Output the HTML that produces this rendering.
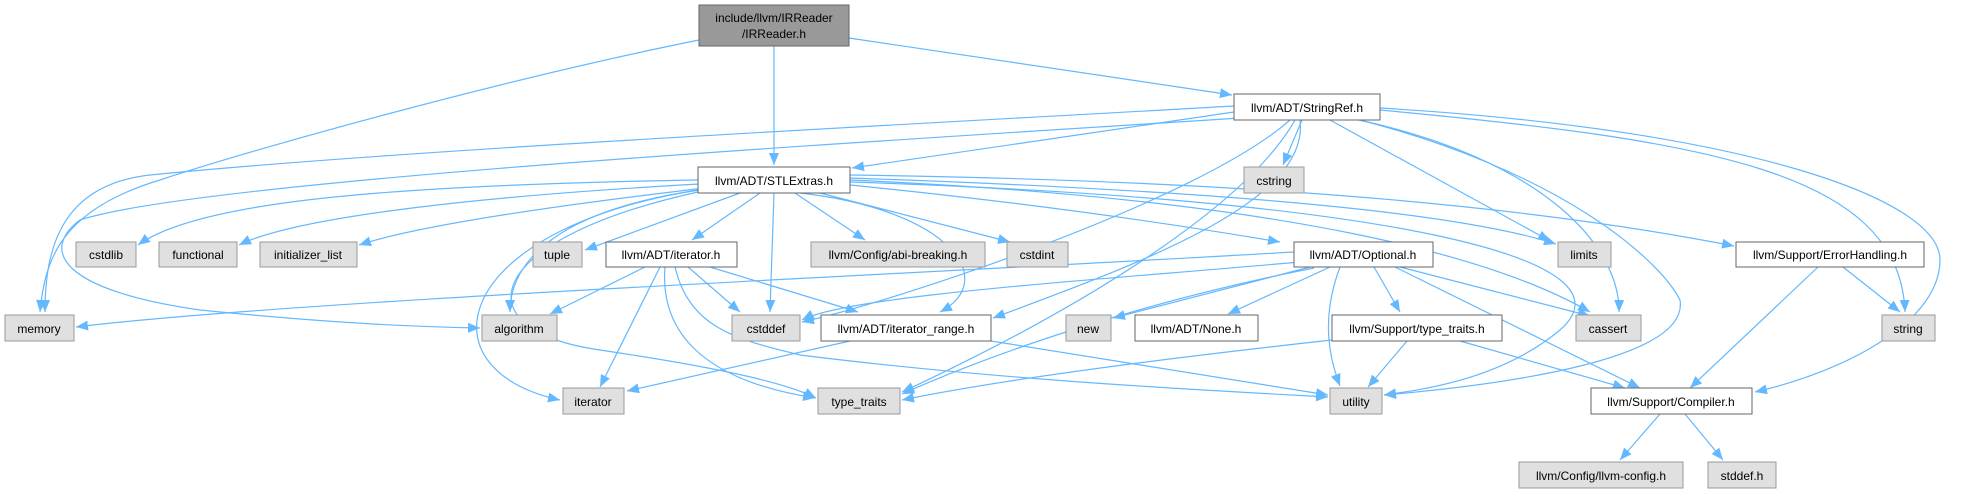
<!DOCTYPE html>
<html><head><meta charset="utf-8"><style>
html,body{margin:0;padding:0;background:#fff;}
svg{display:block;}
text{font-family:"Liberation Sans",Helvetica,Arial,sans-serif;font-size:12px;fill:#000;text-anchor:middle;}
.e{fill:none;stroke:#63b8ff;stroke-width:1.2;marker-end:url(#a);}
.g{fill:#e0e0e0;stroke:#999;stroke-width:1;}
.w{fill:#fff;stroke:#666;stroke-width:1;}
</style></head><body>
<svg width="1973" height="493" viewBox="0 0 1973 493" xmlns="http://www.w3.org/2000/svg">
<defs><marker id="a" viewBox="0 0 12 10" refX="12" refY="5" markerWidth="12" markerHeight="10" markerUnits="userSpaceOnUse" orient="auto"><path d="M0,0 L12,5 L0,10 z" fill="#63b8ff"/></marker></defs>
<g>
<path class="e" d="M774 46 L774 165"/>
<path class="e" d="M849 38 L1232 95"/>
<path class="e" d="M699 40 C500 80 250 150 160 180 C60 210 45 260 40 312"/>
<path class="e" d="M1234 112 L852 168"/>
<path class="e" d="M1234 106 C900 125 400 150 150 175 C60 185 45 250 45 312"/>
<path class="e" d="M1240 118 C900 140 200 180 80 220 C40 250 60 290 200 310 C350 325 430 327 480 328"/>
<path class="e" d="M1302 120 L1283 165"/>
<path class="e" d="M1330 120 L1550 241"/>
<path class="e" d="M1350 118 C1550 160 1620 250 1619 312"/>
<path class="e" d="M1352 118 C1560 170 1660 260 1680 300 C1690 360 1500 385 1384 395"/>
<path class="e" d="M1380 110 C1700 140 1900 170 1905 312"/>
<path class="e" d="M1380 108 C1750 130 1940 200 1940 260 C1940 320 1850 370 1755 392"/>
<path class="e" d="M1300 120 C1310 200 1150 260 993 318"/>
<path class="e" d="M1290 120 C1200 200 900 300 802 322"/>
<path class="e" d="M1295 120 C1250 200 1100 300 902 392"/>
<path class="e" d="M698 180 C400 185 200 200 138 245"/>
<path class="e" d="M700 184 C500 195 300 215 239 245"/>
<path class="e" d="M705 188 C560 205 420 225 359 245"/>
<path class="e" d="M740 193 L585 250"/>
<path class="e" d="M760 193 L692 240"/>
<path class="e" d="M795 193 L865 240"/>
<path class="e" d="M820 193 L1010 242"/>
<path class="e" d="M850 185 C1000 200 1150 220 1280 242"/>
<path class="e" d="M850 178 C1200 190 1450 210 1556 244"/>
<path class="e" d="M850 175 C1200 180 1500 200 1734 246"/>
<path class="e" d="M850 180 C1300 200 1500 260 1590 312"/>
<path class="e" d="M850 182 C1400 200 1640 260 1560 330 C1500 380 1420 390 1384 395"/>
<path class="e" d="M774 193 L770 312"/>
<path class="e" d="M800 193 C950 210 1000 280 940 312"/>
<path class="e" d="M700 190 C560 210 510 260 510 312"/>
<path class="e" d="M698 190 C450 230 420 370 560 400"/>
<path class="e" d="M698 192 C480 240 460 330 600 350 C700 365 780 380 816 398"/>
<path class="e" d="M645 267 L550 314"/>
<path class="e" d="M660 267 L600 387"/>
<path class="e" d="M665 267 C660 330 700 380 815 398"/>
<path class="e" d="M688 267 L740 312"/>
<path class="e" d="M710 267 L858 312"/>
<path class="e" d="M675 267 C690 330 740 340 800 355 C1000 380 1200 390 1328 397"/>
<path class="e" d="M850 341 L627 391"/>
<path class="e" d="M991 341 L1328 395"/>
<path class="e" d="M1294 252 C900 275 300 300 76 327"/>
<path class="e" d="M1300 262 C1100 280 850 295 802 320"/>
<path class="e" d="M1310 267 L1113 318"/>
<path class="e" d="M1330 267 L1228 314"/>
<path class="e" d="M1374 267 L1400 312"/>
<path class="e" d="M1400 267 L1590 316"/>
<path class="e" d="M1340 267 C1320 320 1330 360 1340 386"/>
<path class="e" d="M1395 267 L1640 388"/>
<path class="e" d="M1314 268 C1150 300 1000 350 902 394"/>
<path class="e" d="M1332 340 C1150 360 1000 380 902 400"/>
<path class="e" d="M1407 341 L1368 387"/>
<path class="e" d="M1460 341 L1625 388"/>
<path class="e" d="M1818 267 L1690 388"/>
<path class="e" d="M1843 267 L1900 312"/>
<path class="e" d="M1660 414 L1620 460"/>
<path class="e" d="M1685 414 L1723 460"/>
</g>
<g>
<rect x="699" y="5" width="150" height="41" fill="#999" stroke="#666"/>
<text x="774" y="22">include/llvm/IRReader</text><text x="774" y="38">/IRReader.h</text>
<rect class="w" x="698" y="167" width="152" height="26"/><text x="774" y="185">llvm/ADT/STLExtras.h</text>
<rect class="w" x="1234" y="94" width="146" height="26"/><text x="1307" y="112">llvm/ADT/StringRef.h</text>
<rect class="g" x="1244" y="167" width="60" height="26"/><text x="1274" y="185">cstring</text>

<rect class="g" x="76" y="242" width="60" height="25"/><text x="106" y="259">cstdlib</text>
<rect class="g" x="159" y="242" width="78" height="25"/><text x="198" y="259">functional</text>
<rect class="g" x="260" y="242" width="97" height="25"/><text x="308" y="259">initializer_list</text>
<rect class="g" x="533" y="242" width="49" height="25"/><text x="557" y="259">tuple</text>
<rect class="w" x="606" y="242" width="131" height="25"/><text x="671" y="259">llvm/ADT/iterator.h</text>
<rect class="g" x="811" y="242" width="174" height="25"/><text x="898" y="259">llvm/Config/abi-breaking.h</text>
<rect class="g" x="1007" y="242" width="61" height="25"/><text x="1037" y="259">cstdint</text>
<rect class="w" x="1294" y="242" width="139" height="25"/><text x="1363" y="259">llvm/ADT/Optional.h</text>
<rect class="g" x="1558" y="242" width="53" height="25"/><text x="1584" y="259">limits</text>
<rect class="w" x="1736" y="242" width="188" height="25"/><text x="1830" y="259">llvm/Support/ErrorHandling.h</text>

<rect class="g" x="5" y="315" width="69" height="26"/><text x="39" y="333">memory</text>
<rect class="g" x="482" y="315" width="75" height="26"/><text x="519" y="333">algorithm</text>
<rect class="g" x="732" y="315" width="68" height="26"/><text x="766" y="333">cstddef</text>
<rect class="w" x="821" y="315" width="170" height="26"/><text x="906" y="333">llvm/ADT/iterator_range.h</text>
<rect class="g" x="1066" y="315" width="45" height="26"/><text x="1088" y="333">new</text>
<rect class="w" x="1135" y="315" width="123" height="26"/><text x="1196" y="333">llvm/ADT/None.h</text>
<rect class="w" x="1332" y="315" width="170" height="26"/><text x="1417" y="333">llvm/Support/type_traits.h</text>
<rect class="g" x="1576" y="315" width="65" height="26"/><text x="1608" y="333">cassert</text>
<rect class="g" x="1882" y="315" width="53" height="26"/><text x="1908" y="333">string</text>

<rect class="g" x="563" y="388" width="61" height="26"/><text x="593" y="406">iterator</text>
<rect class="g" x="818" y="388" width="82" height="26"/><text x="859" y="406">type_traits</text>
<rect class="g" x="1330" y="388" width="52" height="26"/><text x="1356" y="406">utility</text>
<rect class="w" x="1591" y="388" width="161" height="26"/><text x="1671" y="406">llvm/Support/Compiler.h</text>

<rect class="g" x="1519" y="462" width="164" height="26"/><text x="1601" y="480">llvm/Config/llvm-config.h</text>
<rect class="g" x="1708" y="462" width="68" height="26"/><text x="1742" y="480">stddef.h</text>
</g>
</svg>
</body></html>
